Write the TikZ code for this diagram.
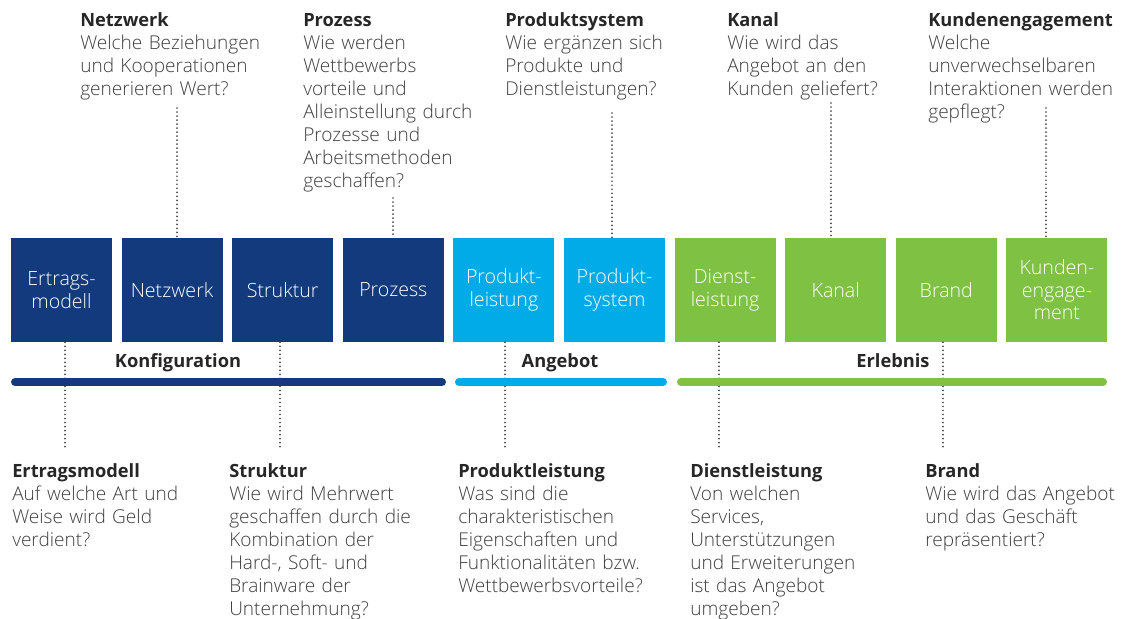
\documentclass[tikz,border=0pt]{standalone}
\usepackage{fontspec}
\setmainfont{Open Sans}
\newfontfamily\lightfont{Open Sans Light}
\definecolor{cdark}{HTML}{133A7C}
\definecolor{clight}{HTML}{01ABE7}
\definecolor{cgreen}{HTML}{7FC243}
\definecolor{bodygray}{HTML}{3E3E3E}
\definecolor{titlegray}{HTML}{262626}
\definecolor{dotgray}{HTML}{4A4A4A}
\begin{document}
\begin{tikzpicture}[x=0.75pt,y=-0.75pt,
  box/.style={minimum width=75.75pt, minimum height=78pt, inner sep=0pt, text=white,
    align=center, font=\lightfont\fontsize{14.7}{16.9}\selectfont},
  confbox/.style={box, fill=cdark},
  offbox/.style={box, fill=clight},
  expbox/.style={box, fill=cgreen},
  info/.style={anchor=base west, text width=170pt, align=left, inner sep=0pt,
    text=bodygray, font=\lightfont\fontsize{14.3}{17.25}\selectfont},
  grp/.style={anchor=base, inner sep=0pt, text=titlegray, font=\fontsize{13.7}{16}\selectfont\bfseries},
  dots/.style={draw=dotgray, line width=1.4pt, dash pattern=on 0.01pt off 3pt, line cap=round},
  bar/.style={line width=6pt, line cap=round}
]
\useasboundingbox (0,0) rectangle (1131,618);
\newcommand{\ttl}[1]{{\color{titlegray}\normalfont\fontsize{13.7}{17.25}\selectfont\bfseries #1}}

% boxes
\node[confbox] (b1) at (61.5,290) {Ertrags-\\modell};
\node[confbox] (b2) at (172.1,290) {Netzwerk};
\node[confbox] (b3) at (282.7,290) {Struktur};
\node[confbox] (b4) at (393.3,290) {Prozess};
\node[offbox] (b5) at (503.9,290) {Produkt-\\leistung};
\node[offbox] (b6) at (614.5,290) {Produkt-\\system};
\node[expbox] (b7) at (725.1,290) {Dienst-\\leistung};
\node[expbox] (b8) at (835.7,290) {Kanal};
\node[expbox] (b9) at (946.3,290) {Brand};
\node[expbox] (b10) at (1056.9,290) {Kunden-\\engage-\\ment};

% top texts
\node[info] (tnetz) at (80,26) {\ttl{Netzwerk}\\Welche Beziehungen\\und Kooperationen\\generieren Wert?};
\node[info] (tproz) at (303,26) {\ttl{Prozess}\\Wie werden\\Wettbewerbs\\vorteile und\\Alleinstellung durch\\Prozesse und\\Arbeitsmethoden\\geschaffen?};
\node[info] (tsys) at (505,26) {\ttl{Produktsystem}\\Wie ergänzen sich\\Produkte und\\Dienstleistungen?};
\node[info] (tkanal) at (727,26) {\ttl{Kanal}\\Wie wird das\\Angebot an den\\Kunden geliefert?};
\node[info] (tkunde) at (928,26) {\ttl{Kundenengagement}\\Welche\\unverwechselbaren\\Interaktionen werden\\gepflegt?};

% bottom texts
\node[info] (bertrag) at (12,477) {\ttl{Ertragsmodell}\\Auf welche Art und\\Weise wird Geld\\verdient?};
\node[info] (bstrukt) at (229,477) {\ttl{Struktur}\\Wie wird Mehrwert\\geschaffen durch die\\Kombination der\\Hard-, Soft- und\\Brainware der\\Unternehmung?};
\node[info] (bprod) at (458,477) {\ttl{Produktleistung}\\Was sind die\\charakteristischen\\Eigenschaften und\\Funktionalitäten bzw.\\Wettbewerbsvorteile?};
\node[info] (bdienst) at (690,477) {\ttl{Dienstleistung}\\Von welchen\\Services,\\Unterstützungen\\und Erweiterungen\\ist das Angebot\\umgeben?};
\node[info] (bbrand) at (925,477) {\ttl{Brand}\\Wie wird das Angebot\\und das Geschäft\\repräsentiert?};

% dotted connectors (top)
\coordinate (cnetz) at (177,108);
\coordinate (cproz) at (393,198);
\coordinate (csys) at (612,113);
\coordinate (ckanal) at (831,103);
\coordinate (ckunde) at (1046,108);
\draw[dots] (cnetz) -- (cnetz |- b2.north);
\draw[dots] (cproz) -- (cproz |- b4.north);
\draw[dots] (csys) -- (csys |- b6.north);
\draw[dots] (ckanal) -- (ckanal |- b8.north);
\draw[dots] (ckunde) -- (ckunde |- b10.north);

% dotted connectors (bottom)
\coordinate (dertrag) at (65,447);
\coordinate (dstrukt) at (280,447);
\coordinate (dprod) at (505,449);
\coordinate (ddienst) at (719,447);
\coordinate (dbrand) at (943,447);
\draw[dots] (dertrag |- b1.south) -- (dertrag);
\draw[dots] (dstrukt |- b3.south) -- (dstrukt);
\draw[dots] (dprod |- b5.south) -- (dprod);
\draw[dots] (ddienst |- b7.south) -- (ddienst);
\draw[dots] (dbrand |- b9.south) -- (dbrand);

% bars
\coordinate (k1) at (15,382); \coordinate (k2) at (442,382);
\coordinate (a1) at (459,382); \coordinate (a2) at (663,382);
\coordinate (e1) at (681,382); \coordinate (e2) at (1103,382);
\draw[bar, cdark] (k1) -- (k2);
\draw[bar, clight] (a1) -- (a2);
\draw[bar, cgreen] (e1) -- (e2);

% group labels
\node[grp] (gk) at (178,367) {Konfiguration};
\node[grp] (ga) at (560,367) {Angebot};
\node[grp] (ge) at (893,367) {Erlebnis};
\end{tikzpicture}
\end{document}
